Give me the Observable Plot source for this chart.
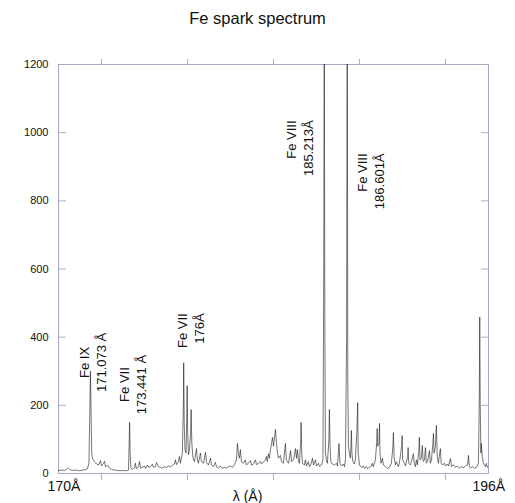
<!DOCTYPE html>
<html>
<head>
<meta charset="utf-8">
<script src="https://cdn.jsdelivr.net/npm/d3@7"></script>
<script src="https://cdn.jsdelivr.net/npm/@observablehq/plot@0.6"></script>
<style>
  html, body { margin: 0; padding: 0; background: #fff; }
  #title { width: 515px; height: 40px; box-sizing: border-box; padding-top: 8px; line-height: 20px;
    text-align: center; font-family: "Liberation Sans", Arial, sans-serif; font-size: 16.5px; color: #111; }
  #chart svg { display: block; }
</style>
</head>
<body>
<div id="title">Fe spark spectrum</div>
<div id="chart"></div>
<script>
// Wavelength (Å) and intensity
const wavelength = [
  169.14,169.32,169.50,169.62,169.74,169.86,170.05,170.23,170.41,170.59,170.77,170.89,170.98,171.04,171.07,171.11,171.15,171.19,171.31,171.44,
  171.56,171.68,171.74,171.86,171.92,171.98,172.10,172.22,172.34,172.52,172.71,172.89,173.07,173.25,173.37,173.41,173.44,173.47,173.52,173.61,
  173.73,173.79,173.85,173.97,174.04,174.10,174.22,174.34,174.40,174.52,174.58,174.70,174.82,174.88,175.00,175.06,175.18,175.31,175.43,175.55,
  175.67,175.79,175.91,176.03,176.15,176.21,176.27,176.39,176.45,176.51,176.57,176.63,176.69,176.71,176.74,176.79,176.85,176.89,176.92,176.95,
  177.00,177.06,177.13,177.16,177.20,177.27,177.36,177.48,177.54,177.60,177.72,177.78,177.91,178.03,178.09,178.21,178.33,178.39,178.51,178.63,
  178.69,178.81,178.93,179.05,179.17,179.30,179.42,179.54,179.66,179.78,179.90,179.96,180.02,180.08,180.14,180.20,180.32,180.44,180.50,180.62,
  180.75,180.81,180.93,181.05,181.11,181.23,181.35,181.41,181.53,181.65,181.71,181.77,181.83,181.89,181.96,182.08,182.14,182.26,182.32,182.38,
  182.44,182.56,182.62,182.74,182.86,182.92,183.05,183.17,183.23,183.35,183.47,183.53,183.59,183.65,183.71,183.79,183.81,183.85,183.89,184.01,
  184.07,184.13,184.25,184.31,184.43,184.50,184.56,184.68,184.74,184.86,184.92,185.04,185.13,185.18,185.21,185.24,185.28,185.34,185.40,185.49,
  185.52,185.56,185.61,185.70,185.82,185.95,186.01,186.10,186.16,186.25,186.37,186.43,186.49,186.56,186.60,186.63,186.67,186.73,186.79,186.83,
  186.85,186.88,186.94,187.03,187.09,187.18,187.23,187.26,187.34,187.46,187.58,187.64,187.76,187.82,187.94,188.06,188.12,188.18,188.30,188.38,
  188.41,188.44,188.52,188.55,188.58,188.64,188.73,188.79,188.91,189.03,189.15,189.27,189.36,189.39,189.43,189.51,189.57,189.69,189.75,189.89,
  189.92,189.95,190.06,190.12,190.25,190.28,190.32,190.42,190.48,190.60,190.65,190.72,190.78,190.84,190.93,190.96,191.00,191.08,191.14,191.19,
  191.27,191.33,191.38,191.45,191.57,191.62,191.69,191.78,191.81,191.85,191.93,191.99,192.04,192.11,192.23,192.28,192.35,192.48,192.54,192.66,
  192.72,192.84,192.90,193.02,193.14,193.26,193.38,193.50,193.62,193.75,193.87,193.93,193.98,194.05,194.17,194.29,194.41,194.53,194.58,194.61,
  194.64,194.68,194.71,194.76,194.83,194.95,195.01,195.07,195.13
];
const intensity = [
  8,10,9,12,16,11,9,10,8,10,11,14,30,200,300,180,60,45,35,28,
  25,38,22,30,36,20,24,16,12,10,9,8,9,8,10,80,150,60,15,12,
  16,30,14,20,35,16,18,22,15,25,18,20,28,18,20,32,20,18,16,20,
  18,22,20,24,28,40,26,35,50,30,45,60,200,325,150,70,60,150,258,120,
  55,70,120,188,90,45,35,73,40,30,60,35,30,62,32,25,45,25,20,33,
  20,16,22,15,18,16,20,22,18,26,40,88,60,45,70,35,30,40,25,30,
  38,25,28,40,26,30,35,28,34,40,50,35,58,45,70,106,80,129,90,60,
  45,53,35,30,88,40,30,67,35,40,73,45,70,35,30,100,150,60,30,25,
  40,22,35,20,30,45,25,40,22,30,20,25,40,600,1500,500,60,40,30,100,
  188,80,35,28,25,30,22,88,30,22,28,20,40,400,1500,300,80,60,45,90,
  126,60,35,28,40,120,208,60,25,18,22,15,20,14,18,22,30,20,40,90,
  132,80,90,147,60,30,45,25,20,15,18,30,80,120,50,25,35,20,30,80,
  111,40,30,22,50,76,30,25,35,58,30,20,40,25,70,106,40,45,82,35,
  40,76,30,35,67,30,40,90,117,60,80,141,50,30,73,30,25,30,22,28,
  22,44,20,26,18,22,16,20,17,22,25,53,20,16,20,15,18,30,200,459,
  200,60,88,50,30,20,30,18,22
];
const yTicks = [0, 200, 400, 600, 800, 1000, 1200];
const xTicks = [171.74, 176.94, 182.14, 187.34, 192.54];
const edgeTicks = [169.47, 195.16];
const edgeLabels = ["170Å", "196Å"];

// Line annotations (centered labels)
const midLambda = [171.16, 173.58];
const midIntensity = [326, 261];
const midText = ["Fe IX\n171.073 Å", "Fe VII\n173.441 Å"];
// Line annotations (top-aligned labels)
const topLambda = [177.12, 183.71, 188.0];
const topIntensity = [470, 1036, 939];
const topText = ["Fe VII\n176Å", "Fe VIII\n185.213Å", "Fe VIII\n186.601Å"];

const xLabel = "λ (Å)";
const xLabelPos = 180.57;

const spectrum = wavelength.map((w, i) => ({w, v: intensity[i]}));
const midAnn = midLambda.map((w, i) => ({w, v: midIntensity[i], t: midText[i]}));
const topAnn = topLambda.map((w, i) => ({w, v: topIntensity[i], t: topText[i]}));

const frameColor = "#a8a8c6";
const tickColor = "#b0b0c4";

const chart = Plot.plot({
  width: 515,
  height: 463,
  marginLeft: 58,
  marginRight: 27,
  marginTop: 24,
  marginBottom: 30,
  x: {domain: [169.14, 195.14], label: null},
  y: {domain: [0, 1200], label: null},
  style: {fontFamily: "'Liberation Sans', Arial, sans-serif", fontSize: "11px", color: "#111", background: "#fff"},
  marks: [
    Plot.axisY({ticks: yTicks, tickSize: 0, tickPadding: 10, label: null, fontSize: 11, tickFormat: d => String(d)}),
    Plot.axisY({ticks: yTicks, tickSize: 8, dx: 8, fill: "none", stroke: tickColor, label: null}),
    Plot.axisY({anchor: "right", ticks: yTicks, tickSize: 8, dx: -8, fill: "none", stroke: tickColor, label: null}),
    Plot.axisX({anchor: "top", ticks: xTicks, tickSize: 6, fill: "none", stroke: tickColor, label: null}),
    Plot.axisX({anchor: "bottom", ticks: xTicks, tickSize: 7, fill: "none", stroke: tickColor, label: null}),
    Plot.axisX({anchor: "bottom", ticks: edgeTicks, tickSize: 0, tickPadding: 8, fontSize: 14,
      tickFormat: (d, i) => edgeLabels[i], label: null}),
    Plot.frame({stroke: frameColor}),
    Plot.line(spectrum, {x: "w", y: "v", stroke: "#1a1a1a", strokeWidth: 0.6, clip: true}),
    Plot.text(midAnn, {x: "w", y: "v", text: "t", rotate: -90, textAnchor: "middle", lineHeight: 1.3, fontSize: 13, fill: "#111"}),
    Plot.text(topAnn, {x: "w", y: "v", text: "t", rotate: -90, textAnchor: "end", lineHeight: 1.3, fontSize: 13, fill: "#111"}),
    Plot.text([xLabel], {x: [xLabelPos], frameAnchor: "bottom", dy: 27, text: d => d, fontSize: 14, fill: "#111"})
  ]
});
document.getElementById("chart").appendChild(chart);
</script>
</body>
</html>
